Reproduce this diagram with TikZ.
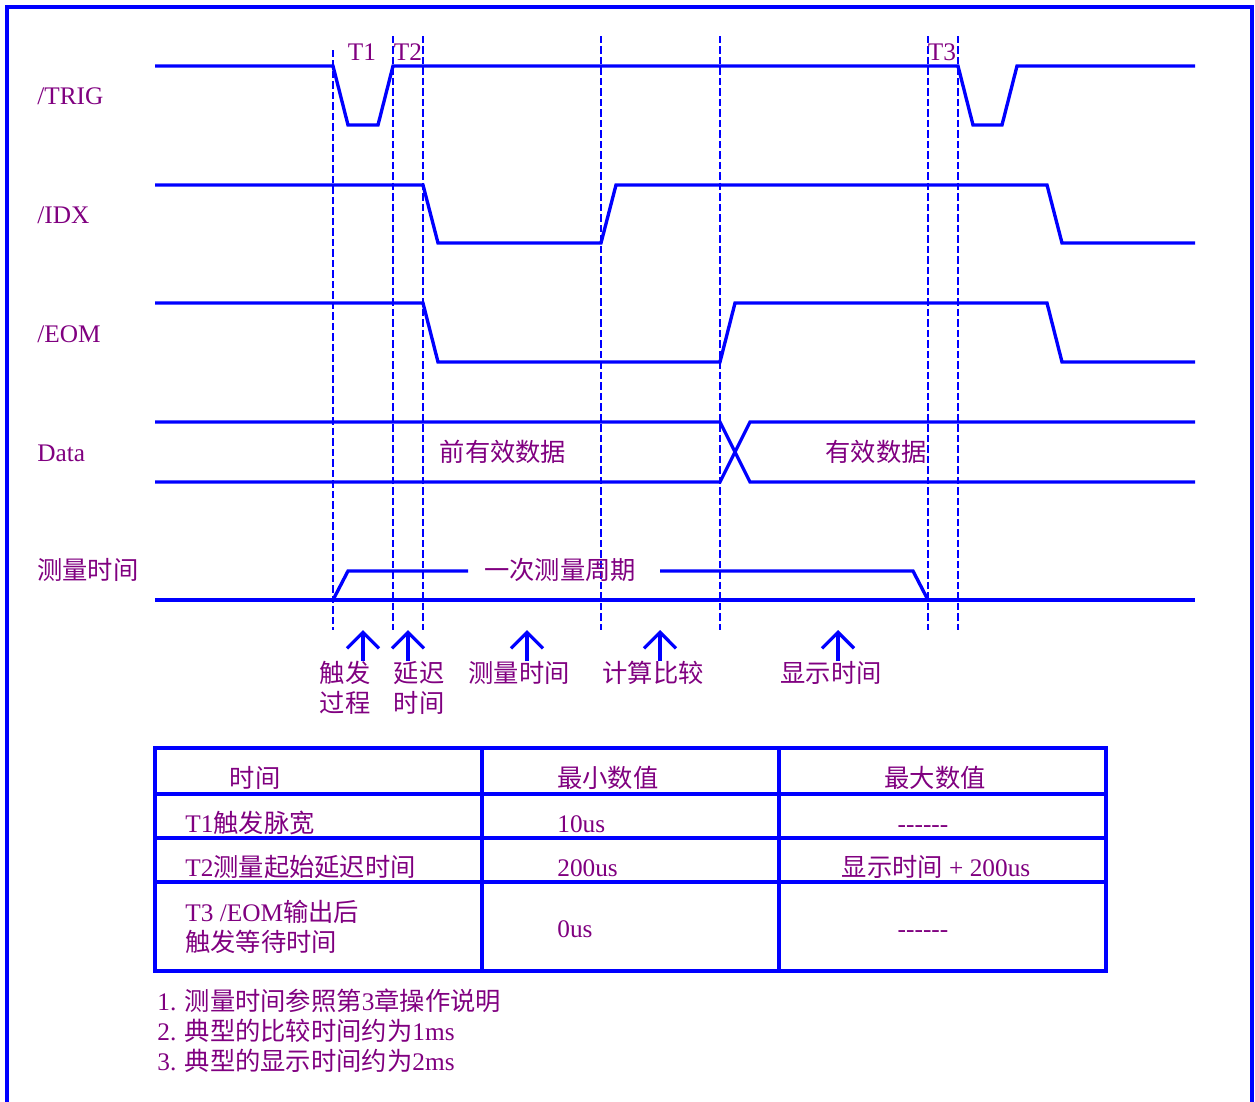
\documentclass[tikz,border=0pt]{standalone}
\usepackage{fontspec}
\setmainfont{Liberation Serif}
\newfontfamily\cjk{Noto Sans CJK SC}
\usetikzlibrary{arrows.meta}
\definecolor{sigblue}{RGB}{0,0,255}
\definecolor{txtpurple}{RGB}{128,0,128}
\newcommand{\zh}[1]{{\cjk #1}}
\tikzset{
	sig/.style={sigblue, line width=1.9pt, line join=miter},
	guide/.style={sigblue, line width=0.6pt, dash pattern=on 0.15cm off 0.06cm},
	lbl/.style={txtpurple, inner sep=0pt, font=\fontsize{14.4}{17}\selectfont},
	uparrow/.style={sigblue, line width=1.9pt, -{Straight Barb[length=0.32cm,width=0.64cm]}}
}

\begin{document}
\begin{tikzpicture}[x=0.02cm, y=-0.02cm]
	\useasboundingbox (0,0) rectangle (1255,1102);
	% Rahmen
		\draw[sig] (7,1102) -- (7,7) -- (1252,7) -- (1252,1102);
	% Hilfslinien
		\foreach \x/\y in {333/50, 393/36, 423/36, 601/36, 720/36, 928/36, 958/36}
			\draw[guide] (\x,\y) -- (\x,630);
	% Signale
		\draw[sig] (155,66) -- (333,66) -- (348,125) -- (378,125) -- (393,66) -- (958,66) -- (973,125) -- (1002,125) -- (1017,66) -- (1195,66);
		\draw[sig] (155,185) -- (423,185) -- (438,243) -- (601,243) -- (616,185) -- (1047,185) -- (1062,243) -- (1195,243);
		\draw[sig] (155,303) -- (423,303) -- (438,362) -- (720,362) -- (735,303) -- (1047,303) -- (1062,362) -- (1195,362);
		\draw[sig] (155,422) -- (720,422) -- (750,482) -- (1195,482);
		\draw[sig] (155,482) -- (720,482) -- (750,422) -- (1195,422);
		\draw[sig] (155,600) -- (1195,600);
		\draw[sig] (333,600) -- (348,571) -- (468,571);
		\draw[sig] (660,571) -- (913,571) -- (928,600);
	% Namen
		\node (trig) at (37,104) [lbl, anchor=base west] {/TRIG};
		\node (idx) at (37,223) [lbl, anchor=base west] {/IDX};
		\node (eom) at (37,342) [lbl, anchor=base west] {/EOM};
		\node (data) at (37,461) [lbl, anchor=base west] {Data};
		\node (mess) at (37,579) [lbl, anchor=base west] {\zh{测量时间}};
		\node (t1) at (362,60) [lbl, anchor=base] {T1};
		\node (t2) at (408,60) [lbl, anchor=base] {T2};
		\node (t3) at (942,60) [lbl, anchor=base] {T3};
		\node (alt) at (503,461) [lbl, anchor=base] {\zh{前有效数据}};
		\node (neu) at (876,461) [lbl, anchor=base] {\zh{有效数据}};
		\node (zyk) at (560,579) [lbl, anchor=base] {\zh{一次测量周期}};
	% Pfeile
		\foreach \x [count=\i] in {363,408,527,660,838} {
			\coordinate (p\i) at (\x,661);
			\coordinate (q\i) at (\x,630);
			\draw[uparrow] (p\i) -- (q\i);
		}
		\node (ph1) at (345,712) [lbl, anchor=base, align=center] {\zh{触发}\\\zh{过程}};
		\node (ph2) at (419,712) [lbl, anchor=base, align=center] {\zh{延迟}\\\zh{时间}};
		\node (ph3) at (519,682) [lbl, anchor=base] {\zh{测量时间}};
		\node (ph4) at (653,682) [lbl, anchor=base] {\zh{计算比较}};
		\node (ph5) at (831,682) [lbl, anchor=base] {\zh{显示时间}};
	% Tabelle
		\draw[sig] (155,748) rectangle (1106,971);
		\draw[sig] (482,748) -- (482,971);
		\draw[sig] (779,748) -- (779,971);
		\foreach \y in {794,838,882}
			\draw[sig] (155,\y) -- (1106,\y);
		\node (h1) at (255,787) [lbl, anchor=base] {\zh{时间}};
		\node (h2) at (557,787) [lbl, anchor=base west] {\zh{最小数值}};
		\node (h3) at (935,787) [lbl, anchor=base] {\zh{最大数值}};
		\node (r1a) at (185,832) [lbl, anchor=base west] {T1\zh{触发脉宽}};
		\node (r1b) at (557,832) [lbl, anchor=base west] {10us};
		\node (r1c) at (923,832) [lbl, anchor=base] {-{}-{}-{}-{}-{}-};
		\node (r2a) at (185,876) [lbl, anchor=base west] {T2\zh{测量起始延迟时间}};
		\node (r2b) at (557,876) [lbl, anchor=base west] {200us};
		\node (r2c) at (936,876) [lbl, anchor=base] {\zh{显示时间} + 200us};
		\node (r3a) at (185,951) [lbl, anchor=base west, align=left] {T3 /EOM\zh{输出后}\\\zh{触发等待时间}};
		\node (r3b) at (557,937) [lbl, anchor=base west] {0us};
		\node (r3c) at (923,937) [lbl, anchor=base] {-{}-{}-{}-{}-{}-};
	% Hinweise
		\node (n1) at (157,1010) [lbl, anchor=base west] {1. \zh{测量时间参照第}3\zh{章操作说明}};
		\node (n2) at (157,1040) [lbl, anchor=base west] {2. \zh{典型的比较时间约为}1ms};
		\node (n3) at (157,1070) [lbl, anchor=base west] {3. \zh{典型的显示时间约为}2ms};
\end{tikzpicture}
\end{document}
